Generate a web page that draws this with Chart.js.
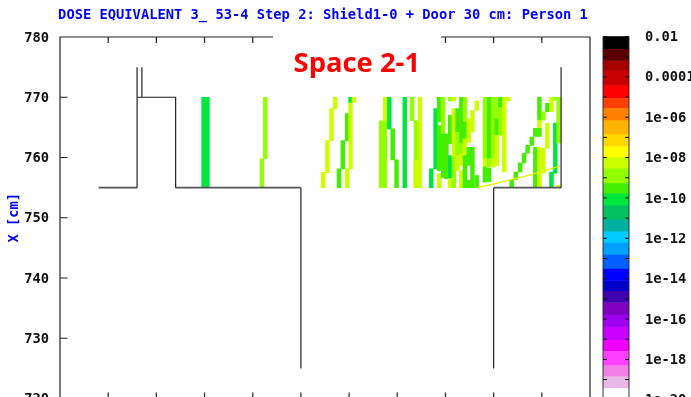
<!DOCTYPE html>
<html><head><meta charset="utf-8">
<script src="https://cdn.jsdelivr.net/npm/chart.js@4"></script>
<style>
html,body{margin:0;padding:0;background:#fff;overflow:hidden;width:691px;height:397px}
#wrap{position:relative;width:691px;height:397px;overflow:hidden}
canvas{position:absolute;top:0}
#main{left:0}#bar{left:595px}
</style></head><body><div id="wrap">
<canvas id="main" width="691" height="420"></canvas>
<canvas id="bar" width="96" height="424"></canvas>
</div>
<script>
const titleText = "DOSE EQUIVALENT 3_ 53-4 Step 2: Shield1-0 + Door 30 cm: Person 1";
const yAxisText = "X [cm]";
const noteText = "Space 2-1";

// colour bar: log10(dose) band edges, top to bottom, and the band colours
const bandEdges = [-2,-2.6,-3.19,-3.69,-4.39,-5.03,-5.53,-6.13,-6.83,-7.42,-7.97,-8.52,-9.26,-9.76,-10.36,-11.05,-11.65,-12.2,-12.8,-13.49,-14.09,-14.59,-15.18,-15.78,-16.38,-17.02,-17.57,-18.27,-18.82,-19.41,-20];
const bandColors = ["#000000","#5a0000","#a80000","#c80000","#ff0000","#ff4000","#ff8000","#ffb400","#ffd800","#ffff00","#ccff00","#94ff00","#44ee00","#00e640","#00c060","#00b0a0","#00ccff","#00a0ff","#0060ff","#0000ff","#0000c8","#4000b0","#8000c0","#a000f0","#c800ff","#f000ff","#ff40ff","#f080e8","#e8b8e8","#ffffff"];
const barTickLabels = {"-2":"0.01","-4":"0.0001","-6":"1e-06","-8":"1e-08","-10":"1e-10","-12":"1e-12","-14":"1e-14","-16":"1e-16","-18":"1e-18","-20":"1e-20"};

// geometry outline, [x, X[cm]], null breaks a line
const wallLines = [[16,775],[16,770],[24,770],[24,755],null,[17,775],[17,770],null,[16,770],[16,755],null,[50,755],[50,725],null,[90,725],[90,755],null,[104,755],[104,775]];
const floorLines = [[8,755],[16,755],null,[24,755],[50,755],null,[90,755],[104,755]];
const diagonalLine = [[86.5,755],[90,755.6],[94,756.4],[98,757.2],[103.8,758.6]];

// dose cells: [x, X low, X high, log10(dose)]
const heatCells = [
[29.8,755,770,-10],[30.6,755,770,-10],
[42.6,759.8,770,-9],[41.9,755,759.8,-9],
[54.6,755,757.5,-8.2],[55.5,757.5,762.8,-8.2],[56.35,762.8,768.1,-8.2],[57.1,768.1,770,-8.2],
[57.9,755,758.1,-9.5],[58.7,758.1,762.8,-9.5],[59.6,762.8,767.3,-9.5],[59.6,755,758.1,-8.2],
[60.3,758.1,769.2,-8.2],[60.3,769.2,770,-10],[61,769.2,770,-8.2],
[66.65,755,766.1,-9],[67.43,755,766.1,-9],[67.5,766.1,770,-8.2],
[68.35,764.75,770,-10],[69.05,759.6,764.75,-9.5],[69.85,755,759.6,-9.5],
[71.55,755,770,-10],
[73.05,766.1,770,-9],[73.9,759.6,766.1,-9],[73.8,755,759.6,-8.2],[74.7,759.6,770,-8.2],[74.65,755,759.6,-8.2],
[77.05,755,758.1,-10],[77.95,758.1,768.1,-10],
[78.7,765.9,770,-9.5],[78.7,757.8,765.3,-9.5],[78.7,755,757.3,-8.2],
[79.5,763.9,770,-9],[79.5,756.7,763.9,-9.5],
[80.2,756.5,763.9,-9.5],
[81,769.4,770,-9],[81,762.3,767,-9.5],[81,756.5,760.3,-10],[81,755,756.5,-8.2],
[81.75,769.4,770,-8.2],[81.75,760,768.1,-8.2],[81.75,755,760,-9],
[82.5,764.2,768.1,-9.5],[82.5,760.3,764.2,-9],[82.5,757.8,760.3,-8.2],
[83.3,762.3,770,-9.5],[83.3,760.6,762.3,-9],[83.3,758.7,760.6,-8.2],[83.3,755,757.8,-8.2],
[84.05,766.1,770,-9],[84.05,763.1,765.9,-9.5],[84.05,760.3,763.1,-8.2],[84.05,755,760.3,-9.5],
[84.85,762.5,766.4,-8.2],[84.85,758.7,761.7,-9.5],[84.85,755,756.2,-9.5],
[85.6,764.2,767.8,-8.2],[85.6,755,761.7,-9.5],
[86.5,767.8,769.4,-8.2],[86.5,755,757,-9.5],
[88.2,759.8,770,-9],[88.2,758.4,759.8,-8.2],[88.2,755.9,758.4,-9.5],
[89.05,759.8,770,-9.5],[89.05,758.4,759.8,-9],[89.05,756,758.2,-9.5],
[89.9,759.8,770,-9],[89.9,758.4,759.8,-8.2],
[90.65,766.4,770,-9],[90.65,763.7,766.4,-9.5],[90.65,758.7,763.7,-8.2],
[91.4,768.3,770,-9.5],[91.4,763.7,768.3,-9],
[92.2,757.6,770,-8.2],[93.05,769.4,770,-8.2],
[93.75,755,756.35,-9.5],[94.6,756.35,757.6,-9.5],[95.5,757.6,759.1,-9.5],[96.3,759.1,760.7,-9.5],[97.05,760.7,762,-9.5],[97.9,762,763.4,-9.5],
[98.65,763.5,764.85,-9.5],[98.65,755,761.7,-9.5],
[99.5,766.2,770,-9.5],[99.5,764.85,766.2,-8.2],[99.5,763.5,764.85,-9.5],[99.5,755,761.7,-8.2],
[100.3,766.2,767.6,-9],[100.3,757.4,761.5,-8.2],
[101.15,767.6,769,-9.5],[101.15,761.5,765.7,-8.2],
[102,767.6,770,-8.2],[102,755,757.6,-10],
[102.8,757.4,765.7,-10],[102.8,769.5,770,-9],
[103.5,762.4,770,-9],[103.5,755,755.4,-8.2]
];

const xMin = 0, xMax = 110, xStep = 10;
const yMin = 720, yMax = 780, yStep = 10;

const labelFont = {family:'"DejaVu Sans Mono"',size:13.75,weight:'bold'};

function levelColor(v){
  for(let i=0;i<bandColors.length;i++){ if(v<=bandEdges[i] && v>bandEdges[i+1]) return bandColors[i]; }
  return "#ffffff";
}
const toXY = a => a ? {x:a[0],y:a[1]} : {x:null,y:null};

const mainFrame = {
  id:'mainFrame',
  afterLayout(c){ c.titleBlock.left-=2; c.titleBlock.right-=2; },
  afterDraw(c){
    const {ctx,chartArea:a,scales:{x,y}} = c;
    ctx.save();
    ctx.strokeStyle='#222'; ctx.lineWidth=1.2;
    ctx.beginPath();
    ctx.moveTo(a.left,a.bottom);ctx.lineTo(a.left,a.top);ctx.lineTo(a.right,a.top);ctx.lineTo(a.right,a.bottom);ctx.lineTo(a.left,a.bottom);
    x.ticks.forEach(t=>{const p=x.getPixelForValue(t.value);ctx.moveTo(p,a.top);ctx.lineTo(p,a.top+6);ctx.moveTo(p,a.bottom);ctx.lineTo(p,a.bottom-6);});
    y.ticks.forEach(t=>{const p=y.getPixelForValue(t.value);ctx.moveTo(a.left,p);ctx.lineTo(a.left+7.5,p);});
    ctx.stroke();
    // white box of the pasted note
    const cx = x.getPixelForValue(61.64);
    ctx.fillStyle='#fff'; ctx.fillRect(cx-84,a.top-3,168,50);
    ctx.fillStyle='#ff0000'; ctx.font='bold 27.4px "Open Sans"'; ctx.textAlign='center'; ctx.textBaseline='middle';
    ctx.fillText(noteText,x.getPixelForValue(61.6),a.top+27);
    ctx.restore();
  }
};

new Chart(document.getElementById('main'),{
  type:'bar',
  data:{datasets:[
    {type:'line',label:'walls',data:wallLines.map(toXY),borderColor:'#222',borderWidth:1.2,pointRadius:0,spanGaps:false,order:0,tension:0},
    {type:'line',label:'floor',data:floorLines.map(toXY),borderColor:'#555',borderWidth:1.7,pointRadius:0,spanGaps:false,order:0,tension:0},
    {type:'line',label:'diagonal',data:diagonalLine.map(toXY),borderColor:'#e8f400',borderWidth:1.4,pointRadius:0,order:1,tension:0},
    {label:'dose',data:heatCells.map(c=>({x:c[0],y:[c[1],c[2]]})),backgroundColor:heatCells.map(c=>levelColor(c[3])),barThickness:3.8,order:2}
  ]},
  plugins:[mainFrame],
  options:{
    responsive:false,animation:false,events:[],
    layout:{padding:{left:0,right:101,top:0,bottom:21.5}},
    plugins:{legend:{display:false},tooltip:{enabled:false},
      title:{display:true,text:titleText,color:'#0000ff',font:labelFont,fullSize:false,align:'center',padding:{top:7,bottom:13.5}}},
    scales:{
      x:{type:'linear',min:xMin,max:xMax,offset:false,grid:{display:false,offset:false,drawTicks:false},border:{display:false},
         ticks:{display:false,stepSize:xStep}},
      y:{type:'linear',min:yMin,max:yMax,grid:{display:false,drawTicks:false},border:{display:false},
         afterFit(s){s.width=60;},
         ticks:{stepSize:yStep,color:'#111',font:labelFont,padding:11,labelOffset:1},
         title:{display:true,text:yAxisText,color:'#0000ff',font:labelFont,padding:{top:6,bottom:0}}}
    }
  }
});

const barFrame = {
  id:'barFrame',
  afterDraw(c){
    const {ctx,chartArea:a,scales:{y}} = c;
    ctx.save();
    ctx.strokeStyle='#333';ctx.lineWidth=1;
    ctx.beginPath();
    ctx.rect(a.left,a.top,a.right-a.left,a.bottom-a.top);
    ctx.stroke();
    ctx.strokeStyle='#111';ctx.beginPath();
    y.ticks.forEach(t=>{const p=y.getPixelForValue(t.value);ctx.moveTo(a.left,p);ctx.lineTo(a.left+4,p);ctx.moveTo(a.right,p);ctx.lineTo(a.right-4,p);});
    ctx.stroke();
    ctx.restore();
  }
};

new Chart(document.getElementById('bar'),{
  type:'bar',
  data:{labels:['dose'],datasets:bandColors.map((col,i)=>({data:[[bandEdges[i+1],bandEdges[i]]],backgroundColor:col,barPercentage:1,categoryPercentage:1,grouped:false}))},
  plugins:[barFrame],
  options:{
    responsive:false,animation:false,events:[],
    layout:{padding:{left:8,right:0,top:36.5,bottom:16}},
    plugins:{legend:{display:false},tooltip:{enabled:false}},
    scales:{
      x:{display:false},
      y:{type:'linear',position:'right',min:-20,max:-2,grid:{display:false,drawTicks:false},border:{display:false},
         afterFit(s){s.width=62;},
         ticks:{stepSize:1,autoSkip:false,color:'#111',font:labelFont,padding:16,labelOffset:1,callback:v=>barTickLabels[String(v)]||''}}
    }
  }
});
</script></body></html>
